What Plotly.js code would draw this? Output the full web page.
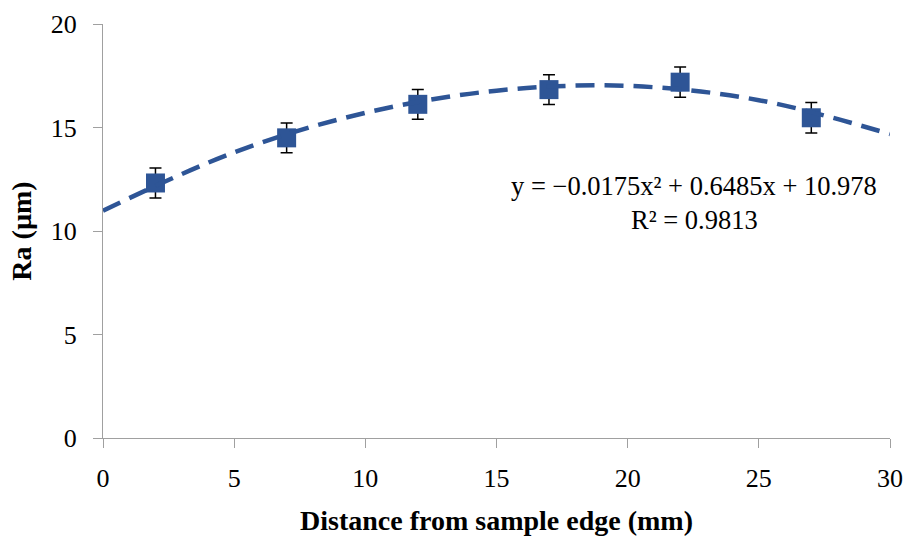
<!DOCTYPE html>
<html>
<head>
<meta charset="utf-8">
<script src="https://cdn.plot.ly/plotly-3.0.1.min.js"></script>
<style>html,body{margin:0;padding:0;background:#fff;}#chart{width:907px;height:536px;}</style>
</head>
<body>
<div id="chart"></div>
<script>
const distance = [2, 7, 12, 17, 22, 27];
const ra = [12.32, 14.5, 16.12, 16.83, 17.19, 15.47];
const raError = [0.72, 0.72, 0.72, 0.72, 0.73, 0.74];

// Dashed trend line
const trendX = [0, 5, 10, 15, 20, 25, 30];
const trendY = [10.98, 13.80, 15.71, 16.78, 17.01, 16.32, 14.68];

const xTickVals = [0, 5, 10, 15, 20, 25, 30];
const yTickVals = [0, 5, 10, 15, 20];

const equationText = 'y = −0.0175x² + 0.6485x + 10.978';
const r2Text = 'R² = 0.9813';
const xTitle = 'Distance from sample edge (mm)';
const yTitle = 'Ra (µm)';

const blue = '#2E5596';
const serif = '"Liberation Serif", "DejaVu Serif", serif';

const traces = [
  {
    x: distance, y: ra, type: 'scatter', mode: 'markers',
    marker: {symbol: 'square', size: 19, color: blue},
    error_y: {type: 'data', array: raError, visible: true, color: '#000', thickness: 1.5, width: 6},
    hoverinfo: 'skip', showlegend: false
  },
  {
    x: trendX, y: trendY, type: 'scatter', mode: 'lines',
    line: {color: blue, width: 4.5, dash: '19px,10px', shape: 'spline', smoothing: 1},
    hoverinfo: 'skip', showlegend: false
  }
];

const layout = {
  width: 907, height: 536,
  margin: {l: 103, r: 17, t: 24, b: 98},
  paper_bgcolor: '#fff', plot_bgcolor: '#fff',
  font: {family: serif, color: '#000', size: 25},
  xaxis: {
    range: [0, 30], tickvals: xTickVals, ticktext: xTickVals.map(String),
    showgrid: false, zeroline: false, showline: true, linecolor: '#A0A0A0', linewidth: 1,
    ticks: 'outside', ticklen: 9, tickcolor: '#A0A0A0', tickwidth: 1,
    tickfont: {family: serif, size: 26, color: '#000'},
    ticklabelstandoff: 8,
    title: {text: '<b>' + xTitle + '</b>', font: {family: serif, size: 28, color: '#000'}, standoff: 24}
  },
  yaxis: {
    range: [0, 20], tickvals: yTickVals, ticktext: yTickVals.map(String),
    showgrid: false, zeroline: false, showline: true, linecolor: '#A0A0A0', linewidth: 1,
    ticks: 'outside', ticklen: 9, tickcolor: '#A0A0A0', tickwidth: 1,
    tickfont: {family: serif, size: 26, color: '#000'},
    ticklabelstandoff: 11,
    title: {text: '<b>' + yTitle + '</b>', font: {family: serif, size: 28, color: '#000'}, standoff: 10}
  },
  annotations: [
    {x: 22.54, y: 12.19, xref: 'x', yref: 'y', text: equationText, showarrow: false,
     font: {family: serif, size: 26.5, color: '#000'}, xanchor: 'center', yanchor: 'middle'},
    {x: 22.54, y: 10.55, xref: 'x', yref: 'y', text: r2Text, showarrow: false,
     font: {family: serif, size: 26.5, color: '#000'}, xanchor: 'center', yanchor: 'middle'}
  ]
};

Plotly.newPlot('chart', traces, layout, {displayModeBar: false, staticPlot: true});
</script>
</body>
</html>
